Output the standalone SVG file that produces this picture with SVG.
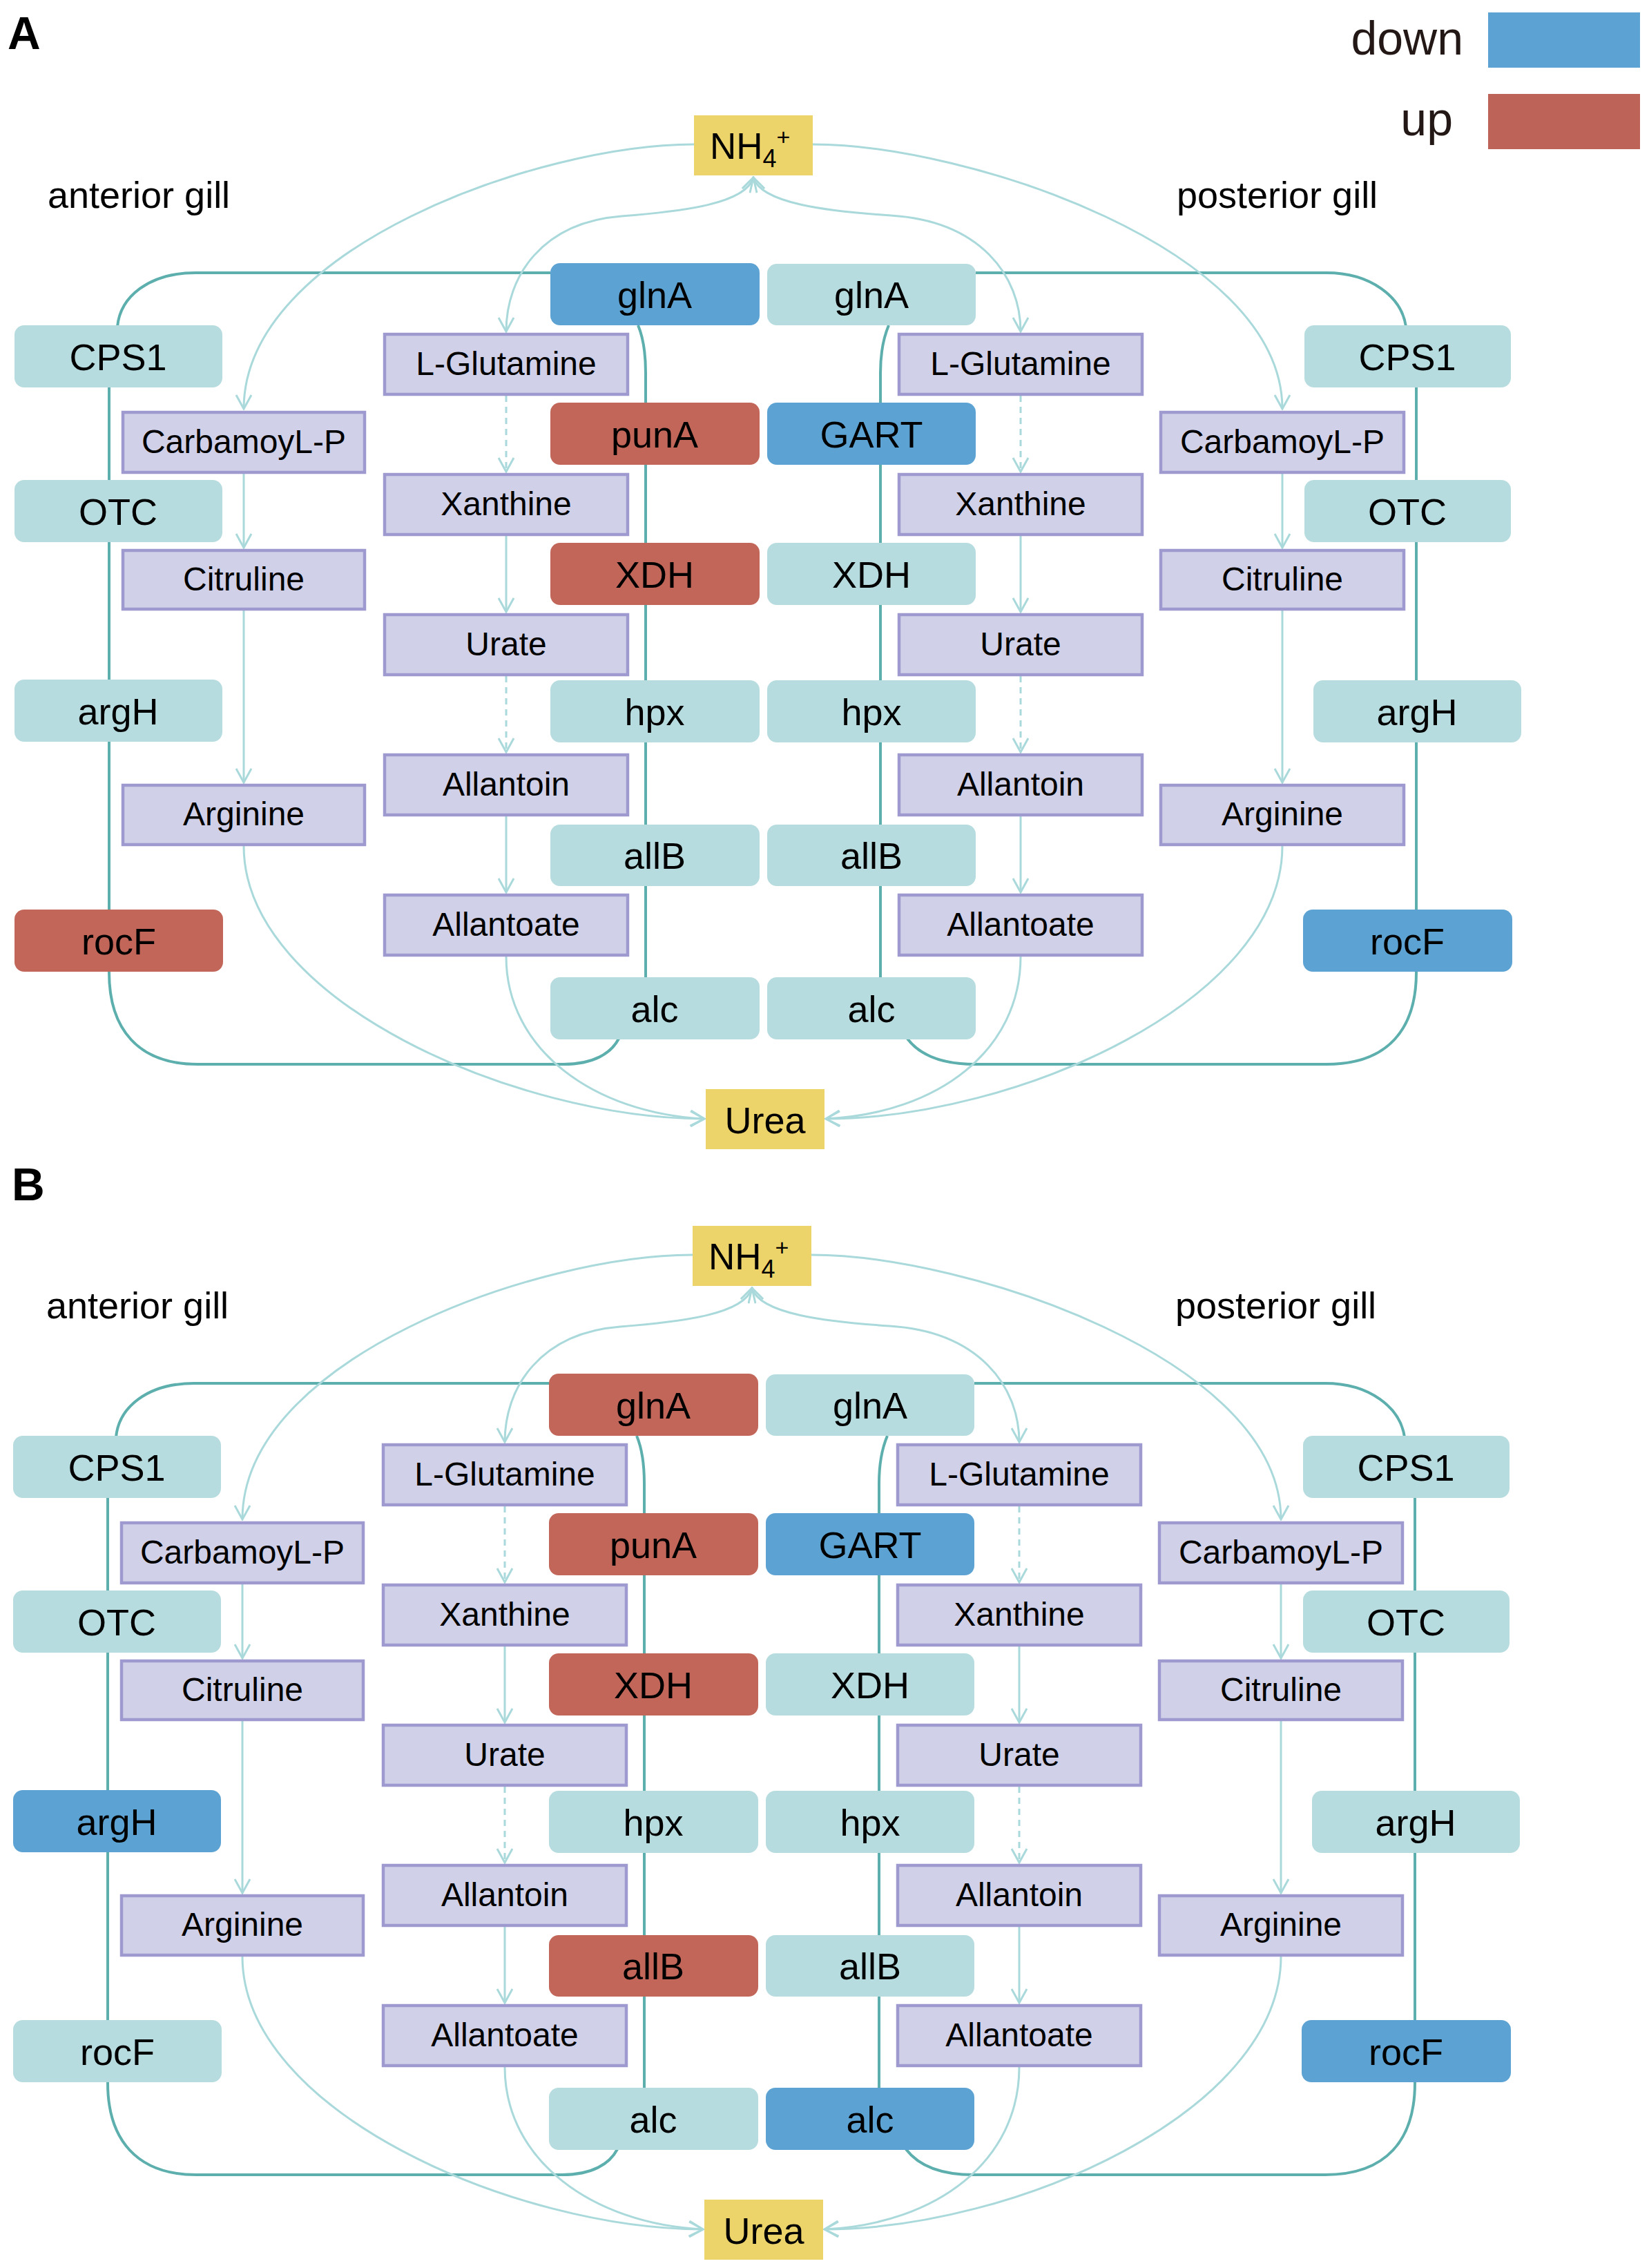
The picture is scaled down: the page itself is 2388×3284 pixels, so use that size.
<svg xmlns="http://www.w3.org/2000/svg" width="2388" height="3284" viewBox="0 0 2388 3284">
<defs>
<style>
.t{fill:#B7DCDF}
.b{fill:#5CA3D3}
.r{fill:#C2665A}
.p{fill:#D0D0E9;stroke:#9E9ACF;stroke-width:4.5}
.y{fill:#ECD36A}
text{font-family:"Liberation Sans",Arial,sans-serif;fill:#000}
.l{font-size:54px;text-anchor:middle}
.pl{font-size:48px;text-anchor:middle}
.h{font-size:54px}
.loop{fill:none;stroke:#5DAFAE;stroke-width:4}
.arr{fill:none;stroke:#AAD9DB;stroke-width:3;marker-end:url(#ah)}
.dash{stroke-dasharray:9 7}
</style>
<marker id="ah" viewBox="0 0 24 24" refX="22" refY="12" markerWidth="24" markerHeight="24" markerUnits="userSpaceOnUse" orient="auto-start-reverse">
<path d="M2,1 L22,12 L2,23" fill="none" stroke="#AAD9DB" stroke-width="3"/>
</marker>
</defs>
<rect x="0" y="0" width="2388" height="3284" fill="#fff"/>

<text x="11" y="71" style="font-size:66px;font-weight:bold">A</text>
<text x="17" y="1738" style="font-size:66px;font-weight:bold">B</text>

<g id="legend">
<text x="2119" y="79" style="font-size:68px;text-anchor:end;fill:#231815">down</text>
<rect x="2155" y="18" width="220" height="80" class="b"/>
<text x="2104" y="196" style="font-size:68px;text-anchor:end;fill:#231815">up</text>
<rect x="2155" y="136" width="220" height="80" fill="#BE6358"/>
</g>

<!-- ================= PANEL A ================= -->
<g id="panelA">
<g id="A-connectors">
<path class="loop" d="M797,395 L283,395 C215,395 174,430 170,473"/>
<path class="loop" d="M158,561 L158,1408 C158,1490 200,1541 286,1541 L816,1541 C860,1541 885,1525 896,1504"/>
<path class="loop" d="M924,471 C932,490 935,510 935,540 L935,1415"/>
<path class="loop" d="M1413,395 L1921,395 C1985,395 2030,430 2036,473"/>
<path class="loop" d="M2051,561 L2051,1408 C2051,1490 2010,1541 1921,1541 L1412,1541 C1360,1541 1330,1525 1314,1504"/>
<path class="loop" d="M1287,471 C1279,490 1275,510 1275,540 L1275,1415"/>
<path class="arr" d="M1005,209 C780,209 353,360 353,592"/>
<path class="arr" d="M1177,209 C1400,209 1857,360 1857,592"/>
<path class="arr" style="marker-start:url(#ah)" d="M1091,257 C1080,295 990,306 900,313 C785,322 733,400 733,480"/>
<path class="arr" style="marker-start:url(#ah)" d="M1091,257 C1102,295 1200,306 1290,312 C1420,320 1478,400 1478,480"/>
<path class="arr" d="M353,686 L353,793"/>
<path class="arr" d="M353,884 L353,1133"/>
<path class="arr" d="M1857,686 L1857,793"/>
<path class="arr" d="M1857,884 L1857,1133"/>
<path class="arr dash" d="M733,573 L733,683"/>
<path class="arr" d="M733,776 L733,886"/>
<path class="arr dash" d="M733,979 L733,1089"/>
<path class="arr" d="M733,1182 L733,1292"/>
<path class="arr dash" d="M1478,573 L1478,683"/>
<path class="arr" d="M1478,776 L1478,886"/>
<path class="arr dash" d="M1478,979 L1478,1089"/>
<path class="arr" d="M1478,1182 L1478,1292"/>
<path class="arr" d="M733,1385 C733,1520 860,1612 1020,1620"/>
<path class="arr" d="M353,1225 C353,1450 750,1620 1020,1620"/>
<path class="arr" d="M1478,1385 C1478,1520 1360,1612 1196,1620"/>
<path class="arr" d="M1857,1225 C1857,1450 1470,1620 1196,1620"/>
</g>

<text class="h" x="69" y="301">anterior gill</text>
<text class="h" x="1704" y="301">posterior gill</text>

<g id="A-NH4"><rect x="1005" y="167" width="172" height="87" class="y"/><text x="1028" y="230" style="font-size:53px">NH<tspan style="font-size:36px" dy="12">4</tspan><tspan style="font-size:34px" dy="-32">+</tspan></text></g>
<g id="A-Urea"><rect x="1022" y="1577" width="172" height="87" class="y"/><text class="l" x="1108" y="1641">Urea</text></g>

<g id="A-CPS1-L"><rect x="21" y="471" width="301" height="90" rx="14" class="t"/><text class="l" x="171" y="536">CPS1</text></g>
<g id="A-OTC-L"><rect x="21" y="695" width="301" height="90" rx="14" class="t"/><text class="l" x="171" y="760">OTC</text></g>
<g id="A-argH-L"><rect x="21" y="984" width="301" height="90" rx="14" class="t"/><text class="l" x="171" y="1049">argH</text></g>
<g id="A-rocF-L"><rect x="21" y="1317" width="302" height="90" rx="14" class="r"/><text class="l" x="172" y="1382">rocF</text></g>

<g id="A-CPS1-R"><rect x="1889" y="471" width="299" height="90" rx="14" class="t"/><text class="l" x="2038" y="536">CPS1</text></g>
<g id="A-OTC-R"><rect x="1889" y="695" width="299" height="90" rx="14" class="t"/><text class="l" x="2038" y="760">OTC</text></g>
<g id="A-argH-R"><rect x="1902" y="985" width="301" height="90" rx="14" class="t"/><text class="l" x="2052" y="1050">argH</text></g>
<g id="A-rocF-R"><rect x="1887" y="1317" width="303" height="90" rx="14" class="b"/><text class="l" x="2038" y="1382">rocF</text></g>

<g id="A-glnA-L"><rect x="797" y="381" width="303" height="90" rx="14" class="b"/><text class="l" x="948" y="446">glnA</text></g>
<g id="A-punA"><rect x="797" y="583" width="303" height="90" rx="14" class="r"/><text class="l" x="948" y="648">punA</text></g>
<g id="A-XDH-L"><rect x="797" y="786" width="303" height="90" rx="14" class="r"/><text class="l" x="948" y="851">XDH</text></g>
<g id="A-hpx-L"><rect x="797" y="985" width="303" height="90" rx="14" class="t"/><text class="l" x="948" y="1050">hpx</text></g>
<g id="A-allB-L"><rect x="797" y="1194" width="303" height="89" rx="14" class="t"/><text class="l" x="948" y="1258">allB</text></g>
<g id="A-alc-L"><rect x="797" y="1415" width="303" height="90" rx="14" class="t"/><text class="l" x="948" y="1480">alc</text></g>

<g id="A-glnA-R"><rect x="1111" y="382" width="302" height="89" rx="14" class="t"/><text class="l" x="1262" y="446">glnA</text></g>
<g id="A-GART"><rect x="1111" y="583" width="302" height="90" rx="14" class="b"/><text class="l" x="1262" y="648">GART</text></g>
<g id="A-XDH-R"><rect x="1111" y="786" width="302" height="90" rx="14" class="t"/><text class="l" x="1262" y="851">XDH</text></g>
<g id="A-hpx-R"><rect x="1111" y="985" width="302" height="90" rx="14" class="t"/><text class="l" x="1262" y="1050">hpx</text></g>
<g id="A-allB-R"><rect x="1111" y="1194" width="302" height="89" rx="14" class="t"/><text class="l" x="1262" y="1258">allB</text></g>
<g id="A-alc-R"><rect x="1111" y="1415" width="302" height="90" rx="14" class="t"/><text class="l" x="1262" y="1480">alc</text></g>

<g id="A-LGlu-L"><rect x="557" y="484" width="352" height="87" class="p"/><text class="pl" x="733" y="543">L-Glutamine</text></g>
<g id="A-Xan-L"><rect x="557" y="687" width="352" height="87" class="p"/><text class="pl" x="733" y="746">Xanthine</text></g>
<g id="A-Urate-L"><rect x="557" y="890" width="352" height="87" class="p"/><text class="pl" x="733" y="949">Urate</text></g>
<g id="A-Alltn-L"><rect x="557" y="1093" width="352" height="87" class="p"/><text class="pl" x="733" y="1152">Allantoin</text></g>
<g id="A-Allte-L"><rect x="557" y="1296" width="352" height="87" class="p"/><text class="pl" x="733" y="1355">Allantoate</text></g>

<g id="A-LGlu-R"><rect x="1302" y="484" width="352" height="87" class="p"/><text class="pl" x="1478" y="543">L-Glutamine</text></g>
<g id="A-Xan-R"><rect x="1302" y="687" width="352" height="87" class="p"/><text class="pl" x="1478" y="746">Xanthine</text></g>
<g id="A-Urate-R"><rect x="1302" y="890" width="352" height="87" class="p"/><text class="pl" x="1478" y="949">Urate</text></g>
<g id="A-Alltn-R"><rect x="1302" y="1093" width="352" height="87" class="p"/><text class="pl" x="1478" y="1152">Allantoin</text></g>
<g id="A-Allte-R"><rect x="1302" y="1296" width="352" height="87" class="p"/><text class="pl" x="1478" y="1355">Allantoate</text></g>

<g id="A-CarP-L"><rect x="178" y="597" width="350" height="87" class="p"/><text class="pl" x="353" y="656">CarbamoyL-P</text></g>
<g id="A-Cit-L"><rect x="178" y="797" width="350" height="85" class="p"/><text class="pl" x="353" y="855">Citruline</text></g>
<g id="A-Arg-L"><rect x="178" y="1137" width="350" height="86" class="p"/><text class="pl" x="353" y="1195">Arginine</text></g>

<g id="A-CarP-R"><rect x="1681" y="597" width="352" height="87" class="p"/><text class="pl" x="1857" y="656">CarbamoyL-P</text></g>
<g id="A-Cit-R"><rect x="1681" y="797" width="352" height="85" class="p"/><text class="pl" x="1857" y="855">Citruline</text></g>
<g id="A-Arg-R"><rect x="1681" y="1137" width="352" height="86" class="p"/><text class="pl" x="1857" y="1195">Arginine</text></g>
</g>

<!-- ================= PANEL B ================= -->
<g id="panelB" transform="translate(-2,1608)">
<g id="B-connectors">
<path class="loop" d="M797,395 L283,395 C215,395 174,430 170,473"/>
<path class="loop" d="M158,561 L158,1408 C158,1490 200,1541 286,1541 L816,1541 C860,1541 885,1525 896,1504"/>
<path class="loop" d="M924,471 C932,490 935,510 935,540 L935,1415"/>
<path class="loop" d="M1413,395 L1921,395 C1985,395 2030,430 2036,473"/>
<path class="loop" d="M2051,561 L2051,1408 C2051,1490 2010,1541 1921,1541 L1412,1541 C1360,1541 1330,1525 1314,1504"/>
<path class="loop" d="M1287,471 C1279,490 1275,510 1275,540 L1275,1415"/>
<path class="arr" d="M1005,209 C780,209 353,360 353,592"/>
<path class="arr" d="M1177,209 C1400,209 1857,360 1857,592"/>
<path class="arr" style="marker-start:url(#ah)" d="M1091,257 C1080,295 990,306 900,313 C785,322 733,400 733,480"/>
<path class="arr" style="marker-start:url(#ah)" d="M1091,257 C1102,295 1200,306 1290,312 C1420,320 1478,400 1478,480"/>
<path class="arr" d="M353,686 L353,793"/>
<path class="arr" d="M353,884 L353,1133"/>
<path class="arr" d="M1857,686 L1857,793"/>
<path class="arr" d="M1857,884 L1857,1133"/>
<path class="arr dash" d="M733,573 L733,683"/>
<path class="arr" d="M733,776 L733,886"/>
<path class="arr dash" d="M733,979 L733,1089"/>
<path class="arr" d="M733,1182 L733,1292"/>
<path class="arr dash" d="M1478,573 L1478,683"/>
<path class="arr" d="M1478,776 L1478,886"/>
<path class="arr dash" d="M1478,979 L1478,1089"/>
<path class="arr" d="M1478,1182 L1478,1292"/>
<path class="arr" d="M733,1385 C733,1520 860,1612 1020,1620"/>
<path class="arr" d="M353,1225 C353,1450 750,1620 1020,1620"/>
<path class="arr" d="M1478,1385 C1478,1520 1360,1612 1196,1620"/>
<path class="arr" d="M1857,1225 C1857,1450 1470,1620 1196,1620"/>
</g>

<text class="h" x="69" y="301">anterior gill</text>
<text class="h" x="1704" y="301">posterior gill</text>

<g id="B-NH4"><rect x="1005" y="167" width="172" height="87" class="y"/><text x="1028" y="230" style="font-size:53px">NH<tspan style="font-size:36px" dy="12">4</tspan><tspan style="font-size:34px" dy="-32">+</tspan></text></g>
<g id="B-Urea"><rect x="1022" y="1577" width="172" height="87" class="y"/><text class="l" x="1108" y="1641">Urea</text></g>

<g id="B-CPS1-L"><rect x="21" y="471" width="301" height="90" rx="14" class="t"/><text class="l" x="171" y="536">CPS1</text></g>
<g id="B-OTC-L"><rect x="21" y="695" width="301" height="90" rx="14" class="t"/><text class="l" x="171" y="760">OTC</text></g>
<g id="B-argH-L"><rect x="21" y="984" width="301" height="90" rx="14" class="b"/><text class="l" x="171" y="1049">argH</text></g>
<g id="B-rocF-L"><rect x="21" y="1317" width="302" height="90" rx="14" class="t"/><text class="l" x="172" y="1382">rocF</text></g>

<g id="B-CPS1-R"><rect x="1889" y="471" width="299" height="90" rx="14" class="t"/><text class="l" x="2038" y="536">CPS1</text></g>
<g id="B-OTC-R"><rect x="1889" y="695" width="299" height="90" rx="14" class="t"/><text class="l" x="2038" y="760">OTC</text></g>
<g id="B-argH-R"><rect x="1902" y="985" width="301" height="90" rx="14" class="t"/><text class="l" x="2052" y="1050">argH</text></g>
<g id="B-rocF-R"><rect x="1887" y="1317" width="303" height="90" rx="14" class="b"/><text class="l" x="2038" y="1382">rocF</text></g>

<g id="B-glnA-L"><rect x="797" y="381" width="303" height="90" rx="14" class="r"/><text class="l" x="948" y="446">glnA</text></g>
<g id="B-punA"><rect x="797" y="583" width="303" height="90" rx="14" class="r"/><text class="l" x="948" y="648">punA</text></g>
<g id="B-XDH-L"><rect x="797" y="786" width="303" height="90" rx="14" class="r"/><text class="l" x="948" y="851">XDH</text></g>
<g id="B-hpx-L"><rect x="797" y="985" width="303" height="90" rx="14" class="t"/><text class="l" x="948" y="1050">hpx</text></g>
<g id="B-allB-L"><rect x="797" y="1194" width="303" height="89" rx="14" class="r"/><text class="l" x="948" y="1258">allB</text></g>
<g id="B-alc-L"><rect x="797" y="1415" width="303" height="90" rx="14" class="t"/><text class="l" x="948" y="1480">alc</text></g>

<g id="B-glnA-R"><rect x="1111" y="382" width="302" height="89" rx="14" class="t"/><text class="l" x="1262" y="446">glnA</text></g>
<g id="B-GART"><rect x="1111" y="583" width="302" height="90" rx="14" class="b"/><text class="l" x="1262" y="648">GART</text></g>
<g id="B-XDH-R"><rect x="1111" y="786" width="302" height="90" rx="14" class="t"/><text class="l" x="1262" y="851">XDH</text></g>
<g id="B-hpx-R"><rect x="1111" y="985" width="302" height="90" rx="14" class="t"/><text class="l" x="1262" y="1050">hpx</text></g>
<g id="B-allB-R"><rect x="1111" y="1194" width="302" height="89" rx="14" class="t"/><text class="l" x="1262" y="1258">allB</text></g>
<g id="B-alc-R"><rect x="1111" y="1415" width="302" height="90" rx="14" class="b"/><text class="l" x="1262" y="1480">alc</text></g>

<g id="B-LGlu-L"><rect x="557" y="484" width="352" height="87" class="p"/><text class="pl" x="733" y="543">L-Glutamine</text></g>
<g id="B-Xan-L"><rect x="557" y="687" width="352" height="87" class="p"/><text class="pl" x="733" y="746">Xanthine</text></g>
<g id="B-Urate-L"><rect x="557" y="890" width="352" height="87" class="p"/><text class="pl" x="733" y="949">Urate</text></g>
<g id="B-Alltn-L"><rect x="557" y="1093" width="352" height="87" class="p"/><text class="pl" x="733" y="1152">Allantoin</text></g>
<g id="B-Allte-L"><rect x="557" y="1296" width="352" height="87" class="p"/><text class="pl" x="733" y="1355">Allantoate</text></g>

<g id="B-LGlu-R"><rect x="1302" y="484" width="352" height="87" class="p"/><text class="pl" x="1478" y="543">L-Glutamine</text></g>
<g id="B-Xan-R"><rect x="1302" y="687" width="352" height="87" class="p"/><text class="pl" x="1478" y="746">Xanthine</text></g>
<g id="B-Urate-R"><rect x="1302" y="890" width="352" height="87" class="p"/><text class="pl" x="1478" y="949">Urate</text></g>
<g id="B-Alltn-R"><rect x="1302" y="1093" width="352" height="87" class="p"/><text class="pl" x="1478" y="1152">Allantoin</text></g>
<g id="B-Allte-R"><rect x="1302" y="1296" width="352" height="87" class="p"/><text class="pl" x="1478" y="1355">Allantoate</text></g>

<g id="B-CarP-L"><rect x="178" y="597" width="350" height="87" class="p"/><text class="pl" x="353" y="656">CarbamoyL-P</text></g>
<g id="B-Cit-L"><rect x="178" y="797" width="350" height="85" class="p"/><text class="pl" x="353" y="855">Citruline</text></g>
<g id="B-Arg-L"><rect x="178" y="1137" width="350" height="86" class="p"/><text class="pl" x="353" y="1195">Arginine</text></g>

<g id="B-CarP-R"><rect x="1681" y="597" width="352" height="87" class="p"/><text class="pl" x="1857" y="656">CarbamoyL-P</text></g>
<g id="B-Cit-R"><rect x="1681" y="797" width="352" height="85" class="p"/><text class="pl" x="1857" y="855">Citruline</text></g>
<g id="B-Arg-R"><rect x="1681" y="1137" width="352" height="86" class="p"/><text class="pl" x="1857" y="1195">Arginine</text></g>
</g>
</svg>
